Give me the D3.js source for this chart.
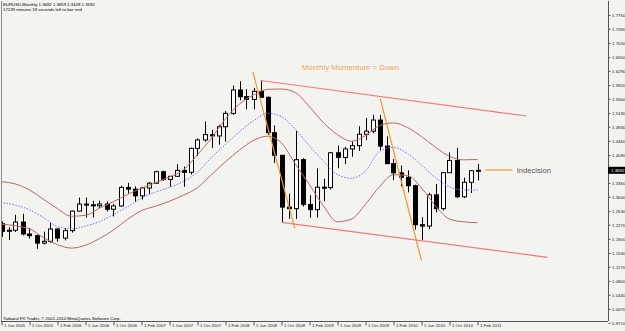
<!DOCTYPE html>
<html><head><meta charset="utf-8">
<script src="https://cdn.jsdelivr.net/npm/d3@7"></script>
<style>
html,body{margin:0;padding:0;background:#f3f3ef;}
svg{display:block;}
text{font-family:"Liberation Sans",Arial,sans-serif;}
</style></head><body>
<svg id="c" width="625" height="331"></svg>
<script>
// ---- data (EURUSD monthly, Jun 2005 .. Feb 2011) ----
const months = ["Jun 2005","Jul 2005","Aug 2005","Sep 2005","Oct 2005","Nov 2005","Dec 2005",
 "Jan 2006","Feb 2006","Mar 2006","Apr 2006","May 2006","Jun 2006","Jul 2006","Aug 2006","Sep 2006","Oct 2006","Nov 2006","Dec 2006",
 "Jan 2007","Feb 2007","Mar 2007","Apr 2007","May 2007","Jun 2007","Jul 2007","Aug 2007","Sep 2007","Oct 2007","Nov 2007","Dec 2007",
 "Jan 2008","Feb 2008","Mar 2008","Apr 2008","May 2008","Jun 2008","Jul 2008","Aug 2008","Sep 2008","Oct 2008","Nov 2008","Dec 2008",
 "Jan 2009","Feb 2009","Mar 2009","Apr 2009","May 2009","Jun 2009","Jul 2009","Aug 2009","Sep 2009","Oct 2009","Nov 2009","Dec 2009",
 "Jan 2010","Feb 2010","Mar 2010","Apr 2010","May 2010","Jun 2010","Jul 2010","Aug 2010","Sep 2010","Oct 2010","Nov 2010","Dec 2010",
 "Jan 2011","Feb 2011"];
const opens = [1.2295,1.2098,1.2125,1.2340,1.2028,1.1985,1.1790,
 1.1837,1.2158,1.1920,1.2115,1.2625,1.2810,1.2790,1.2765,1.2810,1.2675,1.2760,1.3245,
 1.3200,1.3025,1.3230,1.3355,1.3655,1.3455,1.3535,1.3690,1.3640,1.4265,1.4485,1.4625,
 1.4590,1.4830,1.5180,1.5790,1.5615,1.5545,1.5755,1.5600,1.4675,1.4085,1.2730,1.2690,
 1.3970,1.2800,1.2665,1.3250,1.3240,1.4150,1.4030,1.4250,1.4335,1.4635,1.4715,1.5005,
 1.4325,1.3865,1.3625,1.3510,1.3290,1.2270,1.2235,1.3050,1.2690,1.3630,1.3950,1.3000,
 1.3380,1.3682];
const highs = [1.2355,1.2205,1.2530,1.2556,1.2187,1.2010,1.2090,
 1.2325,1.2187,1.2175,1.2640,1.2980,1.2980,1.2896,1.2900,1.2880,1.2810,1.3290,1.3365,
 1.3275,1.3260,1.3385,1.3680,1.3682,1.3535,1.3852,1.3790,1.4283,1.4527,1.4967,1.4750,
 1.4880,1.5240,1.5905,1.6020,1.5815,1.5845,1.6038,1.5620,1.4865,1.4090,1.3080,1.4720,
 1.4010,1.3040,1.3740,1.3475,1.4170,1.4340,1.4305,1.4445,1.4845,1.5060,1.5145,1.5140,
 1.4580,1.3990,1.3815,1.3690,1.3315,1.2470,1.3105,1.3335,1.3650,1.4160,1.4280,1.3500,
 1.3700,1.3859];
const lows = [1.1952,1.1867,1.2083,1.1990,1.1910,1.1640,1.1755,
 1.1799,1.1827,1.1860,1.2065,1.2620,1.2455,1.2458,1.2710,1.2615,1.2485,1.2740,1.3085,
 1.2865,1.2930,1.3075,1.3340,1.3415,1.3268,1.3520,1.3260,1.3580,1.4065,1.4435,1.4280,
 1.4365,1.4440,1.5140,1.5520,1.5285,1.5285,1.5580,1.4620,1.3885,1.2330,1.2425,1.2420,
 1.2745,1.2455,1.2455,1.2885,1.3190,1.3745,1.3850,1.4045,1.4200,1.4480,1.4660,1.4220,
 1.3860,1.3435,1.3270,1.3115,1.2140,1.1875,1.2150,1.2590,1.2640,1.3625,1.2970,1.2970,
 1.3100,1.3428];
const closes = [1.2098,1.2125,1.2340,1.2028,1.1985,1.1790,1.1837,
 1.2158,1.1920,1.2115,1.2625,1.2810,1.2790,1.2765,1.2810,1.2675,1.2760,1.3245,1.3200,
 1.3025,1.3230,1.3355,1.3655,1.3455,1.3535,1.3690,1.3640,1.4265,1.4485,1.4625,1.4590,
 1.4830,1.5180,1.5790,1.5615,1.5545,1.5755,1.5600,1.4675,1.4085,1.2730,1.2690,1.3970,
 1.2800,1.2665,1.3250,1.3240,1.4150,1.4030,1.4250,1.4335,1.4635,1.4715,1.5005,1.4325,
 1.3865,1.3625,1.3510,1.3290,1.2270,1.2235,1.3050,1.2690,1.3630,1.3950,1.3000,1.3380,
 1.3682,1.3692];

// indicator bands, sampled every 2 months (bar index)
const bandIdx = [-1,0,2,4,6,8,10,12,14,16,18,20,22,24,26,28,30,32,34,36,38,40,42,44,46,48,50,52,54,56,58,60,62,64,66,68];
const upperBand = [1.3397,1.3392,1.3334,1.3177,1.2934,1.2689,1.2493,1.2516,1.2702,1.2874,1.3062,1.3224,1.3371,1.3517,1.3705,1.4102,1.4533,1.5038,1.5424,1.5660,1.5806,1.5816,1.5720,1.5351,1.4933,1.4622,1.4452,1.4601,1.4860,1.4931,1.4808,1.4575,1.4293,1.4055,1.3966,1.3974];
const middleBand = [1.2851,1.2843,1.2785,1.2660,1.2456,1.2224,1.2158,1.2237,1.2349,1.2537,1.2736,1.2966,1.3125,1.3248,1.3402,1.3640,1.4029,1.4366,1.4701,1.4988,1.5181,1.5095,1.4761,1.4330,1.3930,1.3577,1.3483,1.3674,1.4186,1.4290,1.4128,1.3830,1.3496,1.3263,1.3177,1.3177];
const lowerBand = [1.2289,1.2284,1.2242,1.2163,1.1933,1.1750,1.1659,1.1735,1.1907,1.2132,1.2409,1.2639,1.2754,1.2885,1.3041,1.3240,1.3577,1.3917,1.4222,1.4473,1.4583,1.4405,1.3849,1.3313,1.2759,1.2346,1.2419,1.2804,1.3263,1.3577,1.3556,1.3230,1.2759,1.2417,1.2346,1.2323];

// price axis labels
const priceTicks = [1.7750,1.7390,1.7020,1.6650,1.6290,1.5920,1.5560,1.5190,1.4830,1.4460,1.4090,1.3360,1.3000,1.2630,1.2270,1.1900,1.1530,1.1170,1.0800,1.0440,1.0070,0.9710];
const timeTickIdx = [0,4,8,12,16,20,24,28,32,36,40,44,48,52,56,60,64,68];
const timeTickLabels = ["1 Jun 2005","1 Oct 2005","1 Feb 2006","1 Jun 2006","1 Oct 2006","1 Feb 2007","1 Jun 2007","1 Oct 2007","1 Feb 2008","1 Jun 2008","1 Oct 2008","1 Feb 2009","1 Jun 2009","1 Oct 2009","1 Feb 2010","1 Jun 2010","1 Oct 2010","1 Feb 2011"];

// drawn objects (bar index, price)
const channelTop = [[37,1.6038],[75,1.5111]];
const channelBottom = [[40,1.2330],[78,1.1419]];
const momentumLine1 = [[35.9,1.6268],[41.9,1.2176]];
const momentumLine2 = [[54.1,1.5573],[60.0,1.1330]];
const indecisionLine = [[69.1,1.3700],[73.0,1.3700]];
const currentPrice = 1.3692;
const headerLines = ["EURUSD,Monthly  1.3682 1.3859 1.3428 1.3692","17239 minutes 59 seconds left to bar end"];
const footer = "Tadawul FX Trader, \u00A9 2001-2010 MetaQuotes Software Corp.";

// ---- drawing ----
const svg = d3.select("#c");
const W = 625, H = 331;
const plot = {l:1, t:1, r:608, b:321};

const x = d3.scaleLinear().domain([0,68]).range([1.5,477.5]);
const y = d3.scaleLinear().domain([0.9710,1.7750]).range([322.7,15]);

svg.append("rect").attr("width",W).attr("height",H).attr("fill","#f3f3ef");

svg.append("defs").append("clipPath").attr("id","clip")
  .append("rect").attr("x",plot.l).attr("y",plot.t).attr("width",plot.r-plot.l).attr("height",plot.b-plot.t);

const g = svg.append("g").attr("clip-path","url(#clip)");

// candles
const bars = d3.range(opens.length).map(i=>({i,o:opens[i],h:highs[i],l:lows[i],c:closes[i]}));
const cg = g.append("g");
bars.forEach(d=>{
  const cx = Math.round(x(d.i))+0.5;
  cg.append("line").attr("x1",cx).attr("x2",cx).attr("y1",y(d.h)).attr("y2",y(d.l))
    .attr("stroke","#000").attr("stroke-width",1);
  const top = y(Math.max(d.o,d.c)), bot = y(Math.min(d.o,d.c));
  const hgt = Math.max(1, bot-top);
  cg.append("rect").attr("x",cx-2).attr("y",top).attr("width",4).attr("height",hgt)
    .attr("fill", d.c < d.o ? "#000" : "#fff").attr("stroke","#000").attr("stroke-width",1);
});

// bands
const bandLine = vals => d3.line().x((d,k)=>x(bandIdx[k])).y(d=>y(d)).curve(d3.curveMonotoneX)(vals);
g.append("path").attr("d",bandLine(upperBand)).attr("fill","none").attr("stroke","#b86a5f").attr("stroke-width",1);
g.append("path").attr("d",bandLine(lowerBand)).attr("fill","none").attr("stroke","#b86a5f").attr("stroke-width",1);
g.append("path").attr("d",bandLine(middleBand)).attr("fill","none").attr("stroke","#6f6fff").attr("stroke-width",1).attr("stroke-dasharray","1.5,1.5");

// trend lines
const seg = (pts,color) => g.append("line")
  .attr("x1",x(pts[0][0])).attr("y1",y(pts[0][1])).attr("x2",x(pts[1][0])).attr("y2",y(pts[1][1]))
  .attr("stroke",color).attr("stroke-width",1.2);
seg(channelTop,"#f27b7b");
seg(channelBottom,"#f27b7b");
seg(momentumLine1,"#f7962a");
seg(momentumLine2,"#f7962a");
seg(indecisionLine,"#f7962a");

// annotations
g.append("text").attr("x",x(42.9)).attr("y",70).attr("font-size",7.8).attr("fill","#f5a55e").text("Monthly Momentum = Down");
g.append("text").attr("x",x(73.6)).attr("y",172.6).attr("font-size",7.6).attr("fill","#555").text("Indecision");

// header & footer
headerLines.forEach((t,k)=>svg.append("text").attr("x",3).attr("y",6+k*4.8).attr("font-size",4.3).attr("fill","#000").text(t));
svg.append("text").attr("x",3).attr("y",319.6).attr("font-size",4.3).attr("fill","#000").text(footer);

// frame
svg.append("line").attr("x1",plot.l+0.5).attr("x2",plot.l+0.5).attr("y1",plot.t).attr("y2",plot.b).attr("stroke","#8a8a8a");

// price axis
const ya = svg.append("g").attr("transform",`translate(${plot.r+0.5},0)`)
  .call(d3.axisRight(y).tickValues(priceTicks).tickSize(2).tickPadding(1.5).tickFormat(d=>d.toFixed(4)));
ya.select(".domain").attr("d",`M0,${plot.t}V${plot.b}`).attr("stroke","#555");
ya.selectAll(".tick line").attr("stroke","#555");
ya.selectAll("text").attr("font-size",4.4).attr("fill","#222").attr("font-family","Liberation Sans, Arial, sans-serif");

// current price marker
const cp = svg.append("g").attr("transform",`translate(${plot.r},${y(currentPrice)})`);
cp.append("rect").attr("x",0).attr("y",-3.5).attr("width",17).attr("height",7).attr("fill","#000");
cp.append("text").attr("x",3).attr("y",1.6).attr("font-size",4.4).attr("fill","#fff").text(currentPrice.toFixed(4));

// time axis
const xa = svg.append("g").attr("transform",`translate(0,${plot.b+0.5})`)
  .call(d3.axisBottom(x).tickValues(timeTickIdx).tickSize(4).tickFormat((d,k)=>timeTickLabels[k]));
xa.select(".domain").attr("d",`M${plot.l},0H${plot.r}`).attr("stroke","#555");
xa.selectAll(".tick line").attr("stroke","#555");
xa.selectAll("text").attr("font-size",4.3).attr("fill","#222").attr("text-anchor","start")
  .attr("x",2).attr("y",2).attr("dy","0.71em").attr("font-family","Liberation Sans, Arial, sans-serif");
</script>
</body></html>
